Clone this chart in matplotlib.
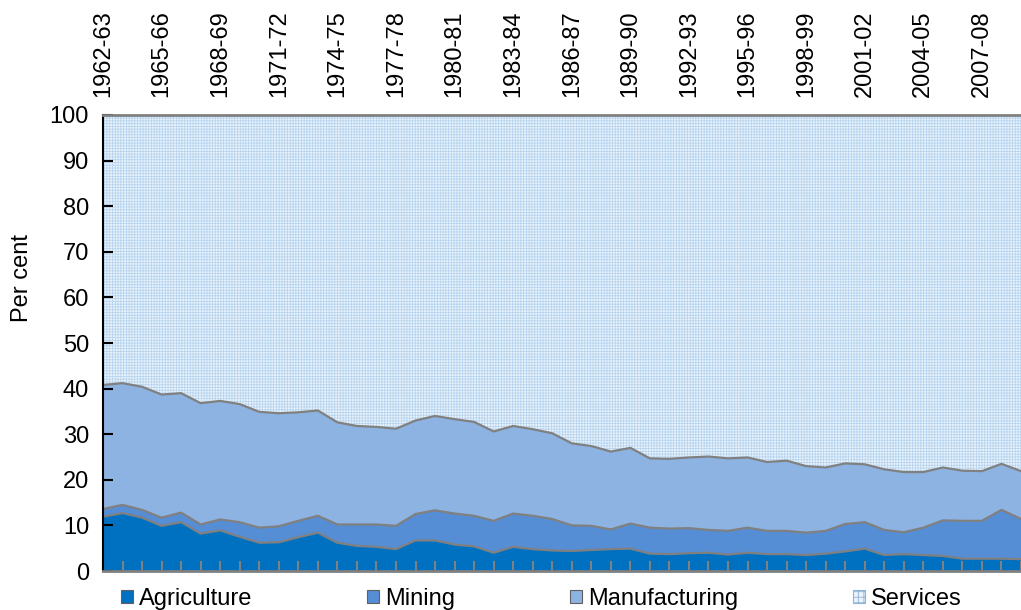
import numpy as np
import matplotlib
matplotlib.use("Agg")
import matplotlib.pyplot as plt
from matplotlib.patches import Patch

plt.rcParams['font.family'] = ['Liberation Sans', 'DejaVu Sans']
plt.rcParams['hatch.linewidth'] = 0.6

# financial years, 1962-63 to 2009-10
years = ['1962-63', '1963-64', '1964-65', '1965-66', '1966-67', '1967-68', '1968-69', '1969-70',
         '1970-71', '1971-72', '1972-73', '1973-74', '1974-75', '1975-76', '1976-77', '1977-78',
         '1978-79', '1979-80', '1980-81', '1981-82', '1982-83', '1983-84', '1984-85', '1985-86',
         '1986-87', '1987-88', '1988-89', '1989-90', '1990-91', '1991-92', '1992-93', '1993-94',
         '1994-95', '1995-96', '1996-97', '1997-98', '1998-99', '1999-00', '2000-01', '2001-02',
         '2002-03', '2003-04', '2004-05', '2005-06', '2006-07', '2007-08', '2008-09', '2009-10']

label_years = ['1962-63', '1965-66', '1968-69', '1971-72', '1974-75', '1977-78', '1980-81',
               '1983-84', '1986-87', '1989-90', '1992-93', '1995-96', '1998-99', '2001-02',
               '2004-05', '2007-08']

agriculture = [11.9, 12.7, 11.7, 9.9, 10.7, 8.2, 8.9, 7.5, 6.2, 6.3, 7.4, 8.4, 6.2, 5.5, 5.3, 4.8,
               6.7, 6.7, 5.8, 5.4, 4.0, 5.3, 4.8, 4.5, 4.4, 4.6, 4.8, 4.9, 3.8, 3.7, 3.9, 4.0,
               3.6, 4.0, 3.7, 3.7, 3.5, 3.8, 4.3, 4.9, 3.5, 3.7, 3.5, 3.3, 2.7, 2.7, 2.7, 2.6]

mining = [1.7, 1.8, 1.7, 1.8, 2.1, 2.0, 2.4, 3.2, 3.3, 3.5, 3.6, 3.7, 4.0, 4.7, 4.9, 5.1,
          5.8, 6.6, 6.8, 6.7, 7.0, 7.3, 7.3, 6.9, 5.6, 5.3, 4.3, 5.5, 5.7, 5.6, 5.5, 5.0,
          5.2, 5.5, 5.1, 5.1, 4.9, 5.0, 6.0, 5.8, 5.5, 4.8, 6.0, 7.8, 8.3, 8.3, 10.7, 8.8]

manufacturing = [27.2, 26.7, 27.0, 27.0, 26.2, 26.6, 26.0, 25.9, 25.4, 24.8, 23.8, 23.1, 22.4, 21.6, 21.4, 21.3,
                 20.5, 20.7, 20.7, 20.6, 19.6, 19.2, 19.0, 18.8, 18.0, 17.5, 17.1, 16.6, 15.2, 15.3, 15.5, 16.1,
                 15.9, 15.4, 15.1, 15.4, 14.6, 13.9, 13.3, 12.7, 13.3, 13.2, 12.2, 11.6, 11.0, 10.9, 10.1, 10.5]

services = [59.2, 58.8, 59.6, 61.3, 61.0, 63.2, 62.7, 63.4, 65.1, 65.4, 65.2, 64.8, 67.4, 68.2, 68.4, 68.8,
            67.0, 66.0, 66.7, 67.3, 69.4, 68.2, 68.9, 69.8, 72.0, 72.6, 73.8, 73.0, 75.3, 75.4, 75.1, 74.9,
            75.3, 75.1, 76.1, 75.8, 77.0, 77.3, 76.4, 76.6, 77.7, 78.3, 78.3, 77.3, 78.0, 78.1, 76.5, 78.1]

series = [agriculture, mining, manufacturing, services]
names = ['Agriculture', 'Mining', 'Manufacturing', 'Services']
colors = ['#0070c0', '#558ed5', '#8db3e2', '#eaf3fb']

fig = plt.figure(figsize=(10.21, 6.10), dpi=100)
ax = fig.add_axes([103 / 1021, 39 / 610, 918 / 1021, 456 / 610])

x = np.arange(len(years))
tops = np.cumsum(np.array(series), axis=0)
bottom = np.zeros(len(years))
for i, top in enumerate(tops):
    if names[i] == 'Services':
        ax.fill_between(x, bottom, top, facecolor=colors[i], edgecolor='#b8d5ef',
                        hatch='++++++', linewidth=0)
    else:
        ax.fill_between(x, bottom, top, facecolor=colors[i], linewidth=0)
    bottom = top
for top in tops[:3]:
    ax.plot(x, top, color='#808080', linewidth=1.6)

ax.set_xlim(0, 46.36)
ax.set_ylim(0, 100)
ax.set_yticks(range(0, 101, 10))
ax.tick_params(axis='y', direction='in', length=7, width=1.5, colors='black', labelsize=17, pad=10)
ax.set_xticks(x)
ax.tick_params(axis='x', direction='in', length=7, width=1.5, colors='#808080', labelbottom=False)

ax.spines['right'].set_visible(False)
ax.spines['left'].set_color('black')
ax.spines['left'].set_linewidth(1.5)
ax.spines['bottom'].set_color('#808080')
ax.spines['bottom'].set_linewidth(2)
ax.spines['top'].set_color('#808080')
ax.spines['top'].set_linewidth(2)

top_ax = ax.secondary_xaxis('top')
top_ax.set_xticks([years.index(y) for y in label_years])
top_ax.set_xticklabels(label_years, rotation=90, fontsize=17)
top_ax.tick_params(length=0, pad=13)
top_ax.spines['top'].set_visible(False)

fig.text(22 / 1021, 1 - 278 / 610, 'Per cent', rotation=90, ha='center', va='center', fontsize=17)

handles = [Patch(facecolor=c, edgecolor='#606060', linewidth=0.8) for c in colors]
handles[3].set_hatch('+++')
handles[3].set_edgecolor('#8fb4d8')
fig.legend(handles, names, loc='center left', bbox_to_anchor=(121 / 1021, 1 - 599 / 610), ncol=4,
           frameon=False, fontsize=17, handlelength=0.5, handleheight=0.5, handletextpad=0.25,
           columnspacing=4.88, borderaxespad=0, borderpad=0)

fig.savefig('out.png', dpi=100)
